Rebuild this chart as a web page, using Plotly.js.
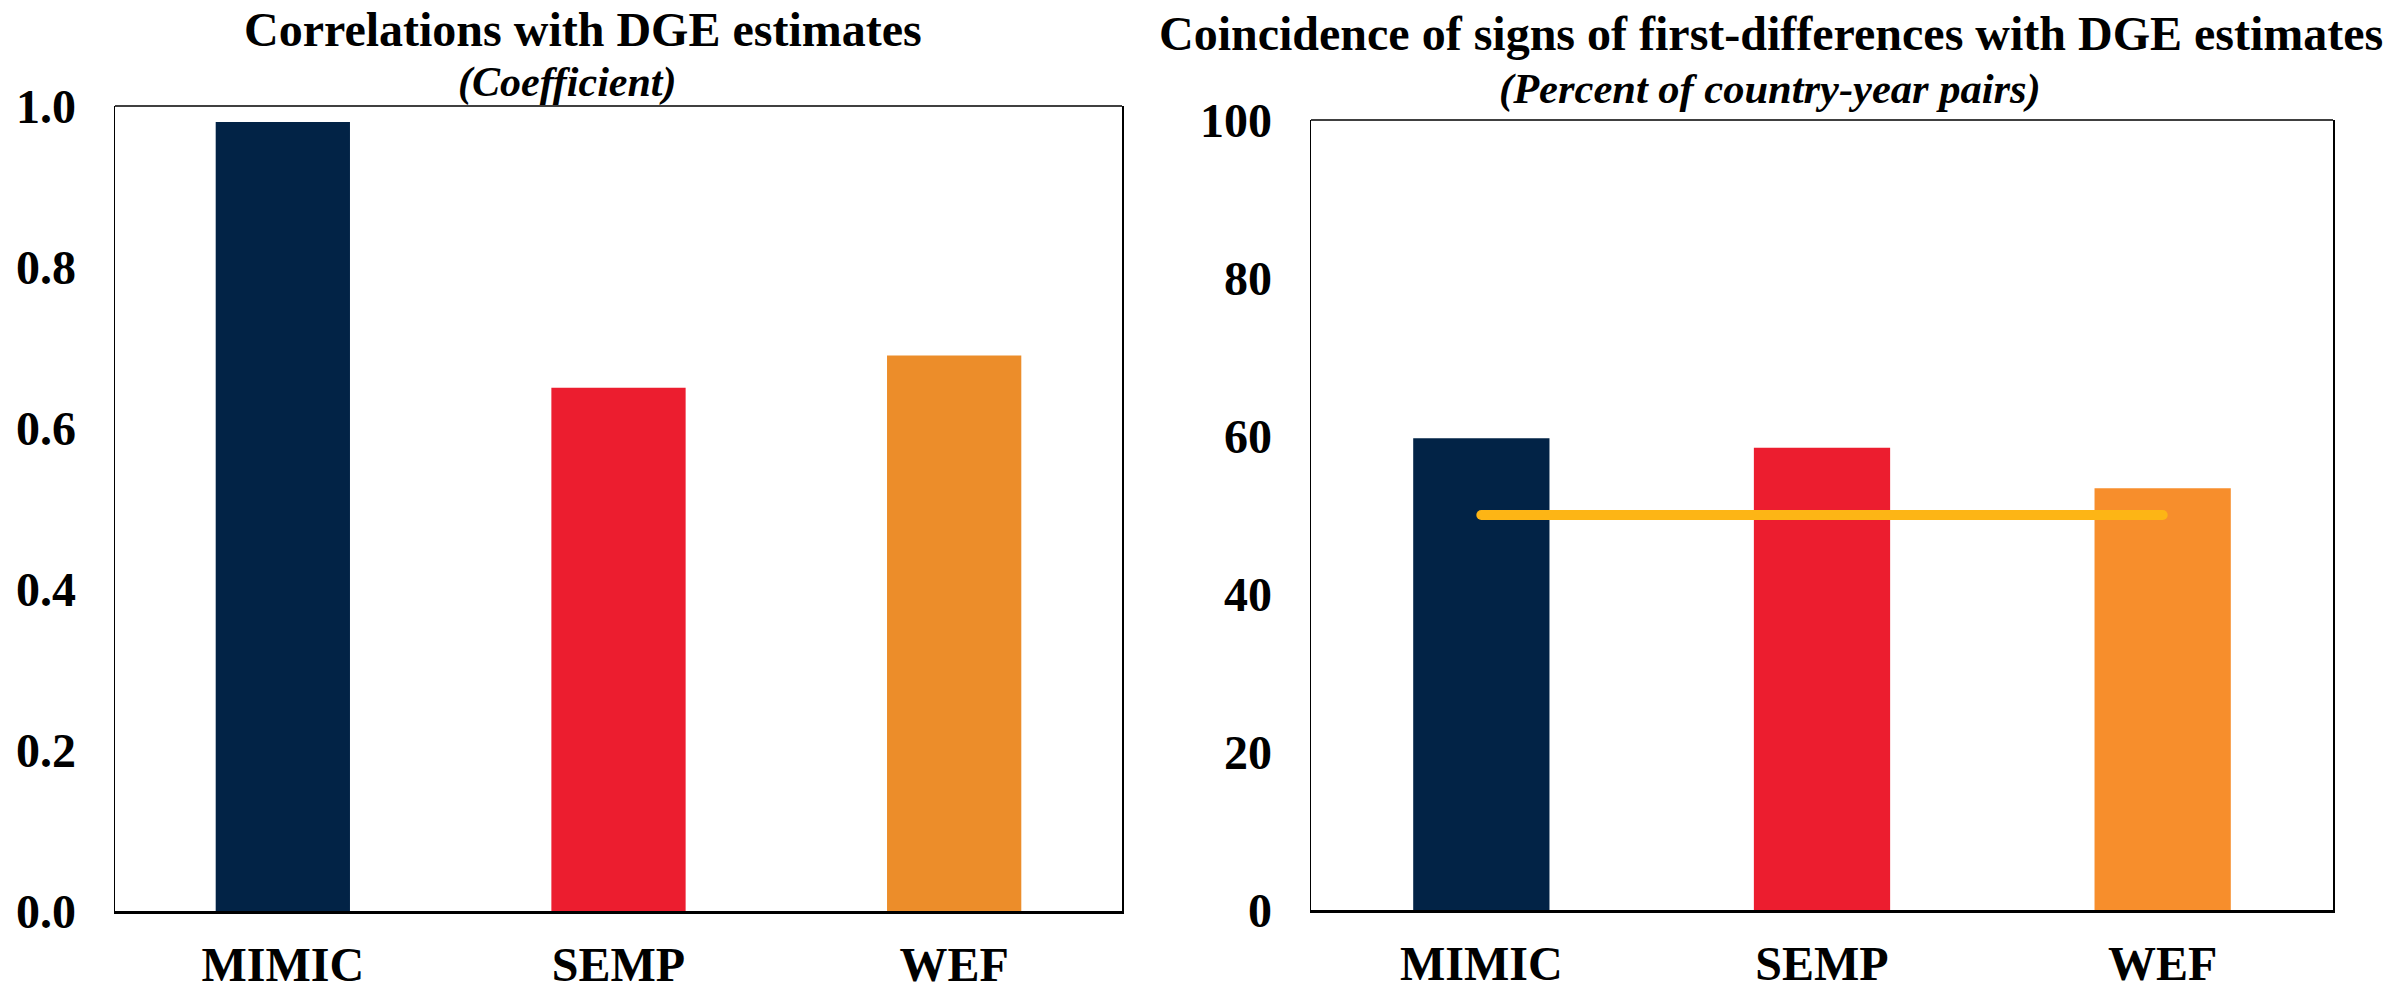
<!DOCTYPE html>
<html>
<head>
<meta charset="utf-8">
<script src="https://cdn.plot.ly/plotly-3.0.1.min.js"></script>
<style>
  html, body { margin: 0; padding: 0; background: #fff; }
  #chart { width: 2394px; height: 987px; }
</style>
</head>
<body>
<div id="chart"></div>
<script>
// ---- data ----
const categories = ['MIMIC', 'SEMP', 'WEF'];
const correlations = [0.98, 0.65, 0.69];          // left panel (coefficient)
const coincidence = [59.7, 58.5, 53.4];           // right panel (percent)
const benchmark = [50, 50, 50];                   // 50% reference line
const leftTicks = [0, 0.2, 0.4, 0.6, 0.8, 1.0];
const rightTicks = [0, 20, 40, 60, 80, 100];
const titleLeft = 'Correlations with DGE estimates';
const subLeft = '(Coefficient)';
const titleRight = 'Coincidence of signs of first-differences with DGE estimates';
const subRight = '(Percent of country-year pairs)';

// ---- styles ----
const leftColors = ['#022346', '#EC1D2F', '#EC8D2A'];
const rightColors = ['#022346', '#EC1D2F', '#F78E2C'];
const lineColor = '#FDB515';
const FONT = 'Liberation Serif, Times New Roman, serif';

const traces = [
  { type: 'bar', x: categories, y: correlations, xaxis: 'x', yaxis: 'y',
    marker: { color: leftColors }, hoverinfo: 'x+y' },
  { type: 'bar', x: categories, y: coincidence, xaxis: 'x2', yaxis: 'y2',
    marker: { color: rightColors }, hoverinfo: 'x+y' },
  { type: 'scatter', mode: 'lines', x: categories, y: benchmark, xaxis: 'x2', yaxis: 'y2',
    line: { color: lineColor, width: 10 }, hoverinfo: 'y' }
];

const tickFont = { family: FONT, size: 48, color: '#000', weight: 'bold' };
const catFont = { family: FONT, size: 48, color: '#000', weight: 'bold' };

function xax(domain, anchor) {
  return { domain: domain, anchor: anchor, type: 'category', showgrid: false, zeroline: false,
    showline: true, linecolor: '#000', linewidth: 3, ticks: '',
    tickfont: catFont, ticklabelstandoff: 9, fixedrange: true };
}
function yax(domain, anchor, range, ticks, fmt) {
  return { domain: domain, anchor: anchor, range: range, tickvals: ticks, tickformat: fmt,
    showgrid: false, zeroline: false, showline: true, linecolor: '#000', linewidth: 1.5,
    mirror: true, ticks: '', tickfont: tickFont, ticklabelstandoff: 28, fixedrange: true };
}

const W = 2394, H = 987;
const layout = {
  width: W, height: H,
  margin: { l: 0, r: 0, t: 0, b: 0 },
  paper_bgcolor: '#fff', plot_bgcolor: '#fff',
  showlegend: false, bargap: 0.6,
  font: { family: FONT, color: '#000' },
  xaxis: xax([115 / W, 1122 / W], 'y'),
  yaxis: yax([(H - 911) / H, (H - 106) / H], 'x', [0, 1.0], leftTicks, '.1f'),
  xaxis2: xax([1311 / W, 2333 / W], 'y2'),
  yaxis2: yax([(H - 910) / H, (H - 120) / H], 'x2', [0, 100], rightTicks, 'd'),
  shapes: [
    { type: 'line', xref: 'x domain', yref: 'y domain', x0: 0, x1: 1, y0: 1, y1: 1,
      line: { color: '#000', width: 1.5 } },
    { type: 'line', xref: 'x2 domain', yref: 'y2 domain', x0: 0, x1: 1, y0: 1, y1: 1,
      line: { color: '#000', width: 1.5 } }
  ],
  annotations: [
    { text: '<b>' + titleLeft + '</b>', xref: 'paper', yref: 'paper', x: 583 / W, y: 1 - 30 / H,
      xanchor: 'center', yanchor: 'middle', showarrow: false, font: { family: FONT, size: 48, color: '#000' } },
    { text: '<b><i>' + subLeft + '</i></b>', xref: 'paper', yref: 'paper', x: 567 / W, y: 1 - 82 / H,
      xanchor: 'center', yanchor: 'middle', showarrow: false, font: { family: FONT, size: 42, color: '#000' } },
    { text: '<b>' + titleRight + '</b>', xref: 'paper', yref: 'paper', x: 1771 / W, y: 1 - 33 / H,
      xanchor: 'center', yanchor: 'middle', showarrow: false, font: { family: FONT, size: 48, color: '#000' } },
    { text: '<b><i>' + subRight + '</i></b>', xref: 'paper', yref: 'paper', x: 1770 / W, y: 1 - 89 / H,
      xanchor: 'center', yanchor: 'middle', showarrow: false, font: { family: FONT, size: 42.5, color: '#000' } }
  ]
};

Plotly.newPlot('chart', traces, layout, { displayModeBar: false, staticPlot: true }).then(function () {
  document.querySelectorAll('.scatterlayer path.js-line').forEach(function (p) {
    p.style.strokeLinecap = 'round';
  });
});
</script>
</body>
</html>
